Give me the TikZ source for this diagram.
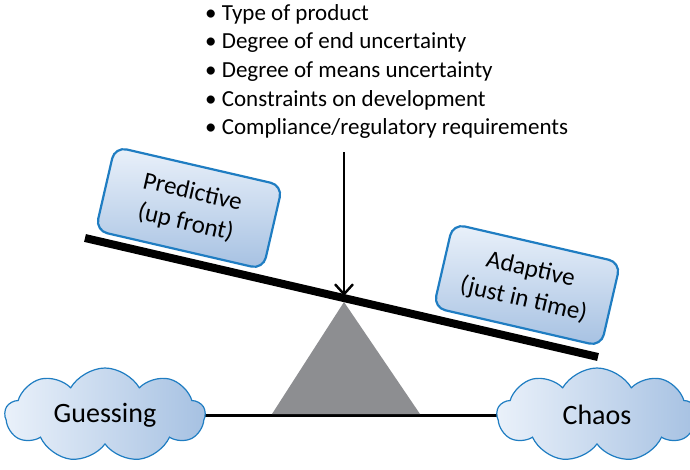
\documentclass[tikz,border=0pt]{standalone}
\usepackage{fontspec}
\setmainfont{Carlito}
\usetikzlibrary{arrows.meta}
\usetikzlibrary{backgrounds}
\usetikzlibrary{shapes.symbols}
\definecolor{edgeblue}{HTML}{1F7DC2}
\definecolor{palebl}{HTML}{EAF1FA}
\definecolor{deepbl}{HTML}{A6C1E2}
\definecolor{pivotgray}{HTML}{8D8E91}

\begin{document}
\begin{tikzpicture}[x=1pt,y=-1pt,
	block/.style={draw=edgeblue,line width=2.2pt,rounded corners=12pt,top color=palebl,bottom color=deepbl,minimum width=172pt,minimum height=86pt,align=center,rotate=-13,font=\fontsize{25}{31}\selectfont},
	puff/.style={cloud,cloud puffs=9,cloud puff arc=120,aspect=2.2,draw=edgeblue,line width=1.2pt,left color=palebl,right color=deepbl,minimum width=200pt,minimum height=94pt,inner sep=0pt,font=\fontsize{28}{30}\selectfont},
	beam/.style={line width=8pt},
	arrow/.style={-{Straight Barb[length=10pt,width=18pt,line width=2.4pt]},line width=2.4pt}]
	\useasboundingbox (0,0) rectangle (690,469);
	% factors list
	\node[anchor=north west,align=left,inner sep=0pt,font=\fontsize{23}{28.7}\selectfont] (list) at (205,4) {\textbullet\ Type of product\\ \textbullet\ Degree of end uncertainty\\ \textbullet\ Degree of means uncertainty\\ \textbullet\ Constraints on development\\ \textbullet\ Compliance/regulatory requirements};
	\coordinate (top) at (344,152);
	\coordinate (pivot) at (344,296);
	\coordinate (beamL) at (85,238);
	\coordinate (beamR) at (598,357);
	\coordinate (apex) at (344,302);
	\coordinate (baseL) at (272,414);
	\coordinate (baseR) at (420,414);
	% seesaw
	\fill[pivotgray] (apex) -- (baseL) -- (baseR) -- cycle;
	\draw[beam] (beamL) -- (beamR);
	\draw[arrow] (top) -- (pivot);
	\node[block] (pred) at (189,208) {Predictive\\(up front)};
	\node[block] (adapt) at (527,285) {Adaptive\\(just in time)};
	\node[puff] (guess) at (105,415) {Guessing};
	\node[puff] (chaos) at (597,415) {Chaos};
	\begin{scope}[on background layer]
		\draw[line width=3pt] (guess.center) -- (chaos.center);
	\end{scope}
\end{tikzpicture}
\end{document}
